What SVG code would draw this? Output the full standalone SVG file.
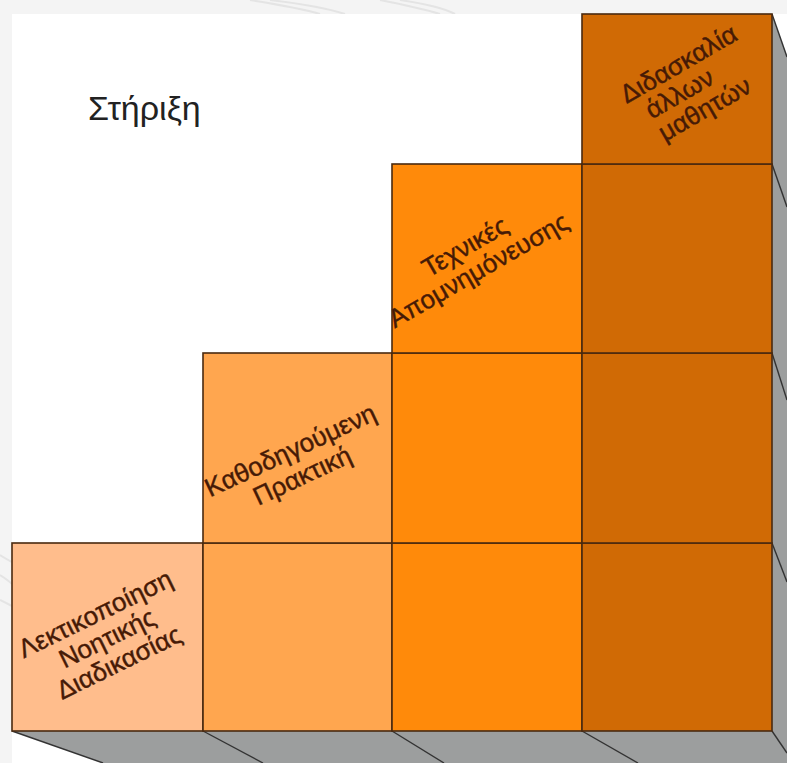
<svg xmlns="http://www.w3.org/2000/svg" width="787" height="763" viewBox="0 0 787 763">
<style>
.cell{stroke:#4a2a10;stroke-width:1.6}
.c1{fill:#ffbd8c}.c2{fill:#ffa64f}.c3{fill:#ff8a0a}.c4{fill:#d06a05}
.lbl{font-family:"Liberation Sans",Arial,sans-serif;font-size:26px;fill:#461a06;stroke:#461a06;stroke-width:0.4;text-anchor:middle}
.edge{stroke:#333;stroke-width:1.4;fill:none}
.swirl{stroke:#e4e4e4;stroke-width:2;fill:none}
</style>
<rect width="787" height="763" fill="#f4f4f4"/>
<g id="background">
<path class="swirl" d="M250 0 Q300 8 320 14 M270 0 Q320 6 345 14 M380 0 Q420 8 440 14 M400 0 Q440 6 455 14 M0 555 Q8 560 12 562 M0 575 Q8 580 12 584 M0 600 Q8 604 12 606"/>
<rect x="12" y="14" width="775" height="749" fill="#ffffff"/>
</g>
<g id="base">
<polygon points="12,731 772,731 772,14 787,57 787,763 103,763" fill="#9c9e9e"/>
</g>
<g id="connectors">
<line class="edge" x1="12" y1="731" x2="103" y2="763"/>
<line class="edge" x1="203" y1="731" x2="263" y2="763"/>
<line class="edge" x1="392" y1="731" x2="444" y2="763"/>
<line class="edge" x1="582" y1="731" x2="638" y2="763"/>
<line class="edge" x1="772" y1="731" x2="787" y2="753"/>
<line class="edge" x1="772" y1="14" x2="787" y2="57"/>
<line class="edge" x1="772" y1="164" x2="787" y2="207"/>
<line class="edge" x1="772" y1="353" x2="787" y2="400"/>
<line class="edge" x1="772" y1="543" x2="787" y2="582"/>
</g>
<g id="cell-1-1"><rect class="cell c1" x="12" y="543" width="191" height="188"/></g>
<g id="cell-2-1"><rect class="cell c2" x="203" y="543" width="189" height="188"/></g>
<g id="cell-2-2"><rect class="cell c2" x="203" y="353" width="189" height="190"/></g>
<g id="cell-3-1"><rect class="cell c3" x="392" y="543" width="190" height="188"/></g>
<g id="cell-3-2"><rect class="cell c3" x="392" y="353" width="190" height="190"/></g>
<g id="cell-3-3"><rect class="cell c3" x="392" y="164" width="190" height="189"/></g>
<g id="cell-4-1"><rect class="cell c4" x="582" y="543" width="190" height="188"/></g>
<g id="cell-4-2"><rect class="cell c4" x="582" y="353" width="190" height="190"/></g>
<g id="cell-4-3"><rect class="cell c4" x="582" y="164" width="190" height="189"/></g>
<g id="cell-4-4"><rect class="cell c4" x="582" y="14" width="190" height="150"/></g>
<g id="label-1"><text class="lbl" transform="translate(111,646) rotate(-26)"><tspan x="0" y="-27">Λεκτικοποίηση</tspan><tspan x="0" y="0">Νοητικής</tspan><tspan x="0" y="27">Διαδικασίας</tspan></text></g>
<g id="label-2"><text class="lbl" transform="translate(300,471) rotate(-25)"><tspan x="0" y="-14">Καθοδηγούμενη</tspan><tspan x="0" y="14">Πρακτική</tspan></text></g>
<g id="label-3"><text class="lbl" transform="translate(476,266) rotate(-30)"><tspan x="0" y="-13.5">Τεχνικές</tspan><tspan x="0" y="13.5">Απομνημόνευσης</tspan></text></g>
<g id="label-4"><text class="lbl" transform="translate(696,94) rotate(-30)"><tspan x="0" y="-26">Διδασκαλία</tspan><tspan x="-14" y="0">άλλων</tspan><tspan x="0" y="26">μαθητών</tspan></text></g>
<g id="title"><text x="88" y="120" font-family="'Liberation Sans',Arial,sans-serif" font-size="34" fill="#222">Στήριξη</text></g>
</svg>
